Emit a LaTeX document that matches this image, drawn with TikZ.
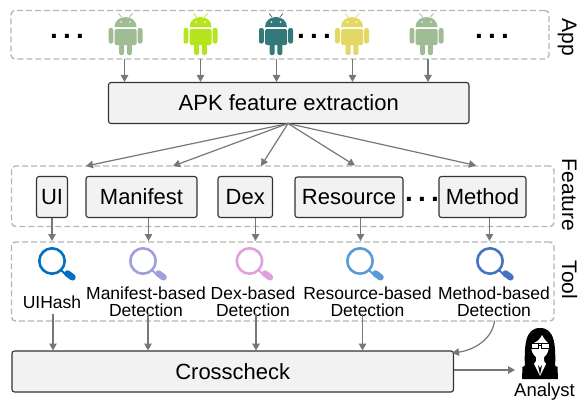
\documentclass[tikz,border=0pt]{standalone}
\usepackage{fontspec}
\setmainfont{Liberation Sans}
\usetikzlibrary{arrows.meta,calc}
\definecolor{boxfill}{HTML}{F2F2F2}
\definecolor{boxline}{HTML}{333333}
\definecolor{dashline}{HTML}{B5B5B5}
\definecolor{arrowgray}{HTML}{777777}
\definecolor{droidA}{HTML}{9FBC94}
\definecolor{droidB}{HTML}{B5E61D}
\definecolor{droidC}{HTML}{34797A}
\definecolor{droidD}{HTML}{E3D766}
\definecolor{lensA}{HTML}{0070C0}
\definecolor{lensB}{HTML}{9F9FE0}
\definecolor{lensC}{HTML}{DFA0DC}
\definecolor{lensD}{HTML}{5B9BD5}
\definecolor{lensE}{HTML}{4472C4}
\tikzset{
  bigbox/.style={draw=boxline,fill=boxfill,line width=1.1pt,rounded corners=2.5pt,inner sep=0pt,
    font=\fontsize{22}{24}\selectfont,text=black},
  groupbox/.style={draw=dashline,line width=1.4pt,dash pattern=on 6pt off 3pt,rounded corners=4pt},
  flow/.style={draw=arrowgray,line width=1.2pt,-{Triangle[length=7pt,width=7.5pt,fill=arrowgray]}},
  toollabel/.style={font=\fontsize{17.5}{17}\selectfont,align=center,inner sep=0pt,text=black},
  sidelabel/.style={font=\fontsize{21}{24}\selectfont,rotate=-90,inner sep=0pt,anchor=base,text=black},
  dots/.style={font=\fontsize{28}{28}\selectfont\bfseries,inner sep=0pt,anchor=base,text=black},
}
\newcommand{\threedots}{.\kern5.2pt.\kern5.2pt.}
\newcommand{\droid}[3]{%
  \begin{scope}[shift={(#1,#2)},x=1pt,y=-1pt]
    \draw[#3,line width=0.8pt] (-4,3) -- (-7,-0.5) (4,3) -- (7,-0.5);
    \fill[#3] (-11,13) .. controls (-11,7) and (-6,3) .. (0,3) .. controls (6,3) and (11,7) .. (11,13) -- cycle;
    \fill[white] (-4.5,8) circle (0.8pt) (4.5,8) circle (0.8pt);
    \fill[#3,rounded corners=1.5pt] (-11,15) rectangle (11,31);
    \fill[#3,rounded corners=1.5pt] (-6.3,29) rectangle (-1.3,41);
    \fill[#3,rounded corners=1.5pt] (1.3,29) rectangle (6.3,41);
    \fill[#3,rounded corners=2pt] (-17,14) rectangle (-12.2,29.5);
    \fill[#3,rounded corners=2pt] (12.2,14) rectangle (17,29.5);
  \end{scope}}
\newcommand{\lens}[3]{%
  \begin{scope}[shift={(#1,#2)},x=1pt,y=-1pt]
    \draw[#3,line width=2.6pt] (0,0) circle (12.7pt);
    \draw[#3,line width=2pt] (9,9) -- (15,15);
    \draw[#3,line width=6.5pt,line cap=round] (15.5,12.5) -- (20.5,16.3);
  \end{scope}}
\begin{document}
\begin{tikzpicture}[x=1pt,y=-1pt]
\useasboundingbox (0,0) rectangle (578,399);
% group boxes
\node[groupbox,minimum width=538pt,minimum height=48.5pt,inner sep=0pt] (appgroup) at (280,34.75) {};
\node[groupbox,minimum width=542.5pt,minimum height=60.5pt,inner sep=0pt] (featgroup) at (282.75,196.25) {};
\node[groupbox,minimum width=542.5pt,minimum height=79pt,inner sep=0pt] (toolgroup) at (282.75,281.5) {};
% side labels
\node[sidelabel] (applabel) at (562,37) {App};
\node[sidelabel] (featlabel) at (562,195) {Feature};
\node[sidelabel] (toollab) at (562,280) {Tool};
% androids
\droid{125.5}{14}{droidA}
\droid{200.5}{14}{droidB}
\droid{276}{14}{droidC}
\droid{352}{14}{droidD}
\droid{426.5}{14}{droidA}
\coordinate (a1) at (124.5,59);
\coordinate (a2) at (200.5,59);
\coordinate (a3) at (276.5,59);
\coordinate (a4) at (352.5,59);
\coordinate (a5) at (428,59);
% dots
\node[dots] (dots1) at (67,38) {\threedots};
\node[dots] (dots2) at (314,38) {\threedots};
\node[dots] (dots3) at (492,38) {\threedots};
\node[dots] (dots4) at (422,201) {\threedots};
% main boxes
\node[bigbox,minimum width=360.5pt,minimum height=41pt] (apk) at (288.75,103) {APK feature extraction};
\node[bigbox,minimum width=31pt,minimum height=41pt] (ui) at (52,197) {UI};
\node[bigbox,minimum width=111pt,minimum height=41pt] (manifest) at (141.5,197) {Manifest};
\node[bigbox,minimum width=54.5pt,minimum height=41pt] (dex) at (245.25,197) {Dex};
\node[bigbox,minimum width=108pt,minimum height=40.5pt] (resource) at (349,197.25) {Resource};
\node[bigbox,minimum width=87pt,minimum height=41pt] (method) at (482.5,197) {Method};
\node[bigbox,minimum width=441.5pt,minimum height=41pt] (cross) at (232.75,371.5) {Crosscheck};
% lenses
\lens{52}{261}{lensA}
\lens{143}{261}{lensB}
\lens{249.5}{261}{lensC}
\lens{360}{261}{lensD}
\lens{490}{261}{lensE}
% tool labels
\node[toollabel] (t1) at (52,302) {UIHash};
\node[toollabel] (t2) at (146,302) {Manifest-based\\Detection};
\node[toollabel] (t3) at (253,302) {Dex-based\\Detection};
\node[toollabel] (t4) at (367.5,302) {Resource-based\\Detection};
\node[toollabel] (t5) at (494,302) {Method-based\\Detection};
% analyst
\begin{scope}
  \fill[black] (525,370) .. controls (524,345) and (525,328) .. (540,328)
     .. controls (555,328) and (556,345) .. (555,370) -- cycle;
  \fill[black] (522,379) -- (522.5,367) -- (533,361) -- (547,361) -- (557.5,367) -- (558,379) -- cycle;
  \fill[white] (531,344) .. controls (535,343) and (540,340) .. (542,335) .. controls (544,339) and (547,342) .. (549,344)
     .. controls (549.5,350) and (547,355) .. (544,357) -- (544,361) -- (546,364) -- (540,376) -- (534,364) -- (536,361) -- (536,357)
     .. controls (533,355) and (530.5,350) .. (531,344) -- cycle;
  \fill[black] (529.5,343) rectangle (550.5,344);
  \draw[black,line width=0.9pt,fill=white] (531,343.5) rectangle (538.5,348);
  \draw[black,line width=0.9pt,fill=white] (541.5,343.5) rectangle (549,348);
  \draw[black,line width=0.9pt] (538.5,345) -- (541.5,345);
  \fill[black] (538,365) -- (540,375) -- (542,365) -- (540,368) -- cycle;
\end{scope}
\node[font=\fontsize{18.5}{20}\selectfont,inner sep=0pt,anchor=base,text=black] (analyst) at (544.5,396) {Analyst};
\coordinate (analystin) at (515,370);
% connectors
\foreach \n in {a1,a2,a3,a4,a5} \draw[flow] (\n) -- (\n |- apk.north);
\coordinate (fan) at (288,123.5);
\draw[flow] (fan) -- (86,166);
\draw[flow] (fan) -- (173,166);
\draw[flow] (fan) -- (261,166);
\draw[flow] (fan) -- (355,165.5);
\draw[flow] (fan) -- (476,165.5);
\foreach \n/\xx in {ui/52,manifest/148.5,dex/255.5,resource/360.5,method/489.5}
  \draw[flow] (\xx,217.5) -- (\xx,241);
\foreach \xx in {53,148,256,362.5}
  \draw[flow] (\xx,314) -- (\xx,350.5);
\draw[flow] (494.5,320.5) .. controls (493,338) and (475,350) .. (452,353);
\draw[flow] (cross.east |- analystin) -- (analystin);
\end{tikzpicture}
\end{document}
